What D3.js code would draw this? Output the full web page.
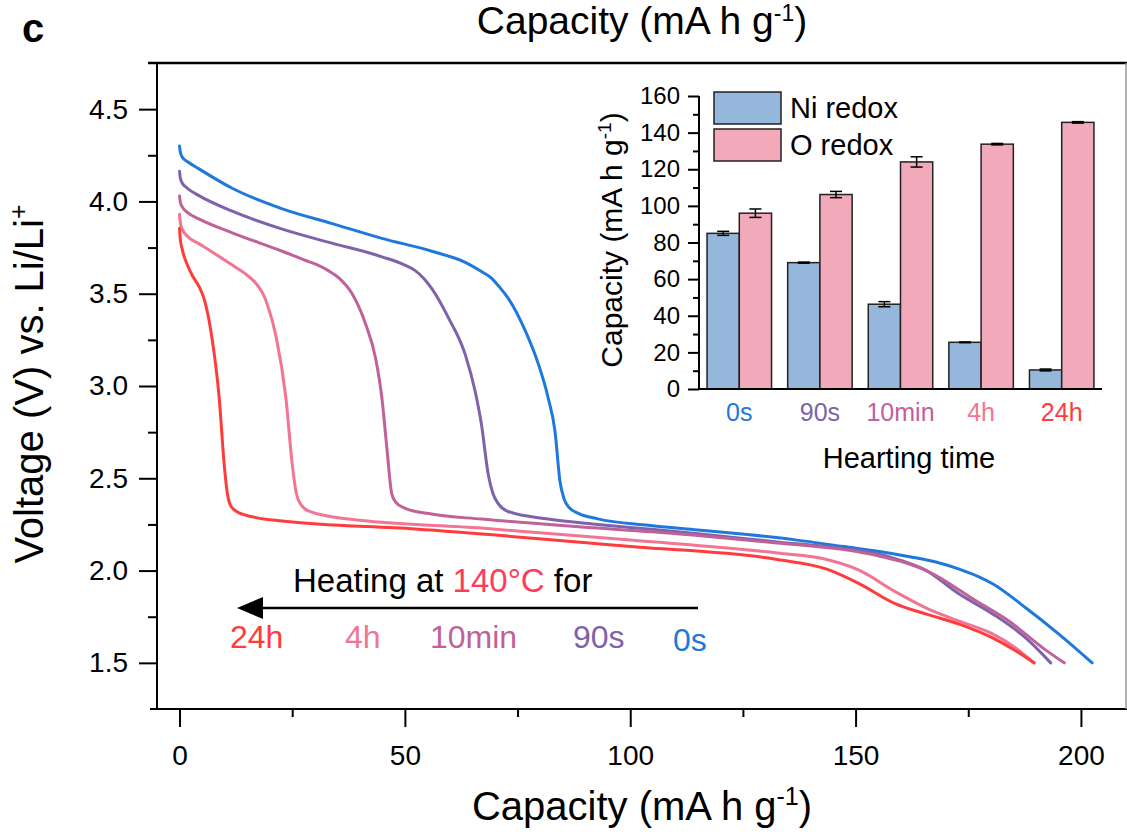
<!DOCTYPE html>
<html><head><meta charset="utf-8">
<script src="https://cdn.jsdelivr.net/npm/d3@7"></script>
<style>
body{margin:0;background:#fff;}
svg{display:block;font-family:"Liberation Sans",Arial,Helvetica,sans-serif;}
</style></head>
<body>
<svg id="chart" width="1127" height="832"></svg>
<script>
// ---------- data ----------
const seriesNames = ["0s","90s","10min","4h","24h"];
const seriesColors = ["#1f78dc","#7e62ab","#c0619a","#f27593","#ff3c3c"];
const curve0s = [[0,4.30],[0.15,4.27],[0.6,4.24],[1.8,4.215],[4.4,4.175],[11.8,4.07],[22.8,3.96],[33.9,3.88],[44.9,3.80],[56,3.73],[63.4,3.67],[67,3.62],[69.2,3.585],[71.2,3.53],[72.9,3.476],[76.7,3.30],[79.6,3.12],[81.8,2.935],[83.3,2.756],[84.4,2.485],[85.3,2.39],[86.5,2.34],[88.5,2.31],[92.8,2.28],[104,2.245],[115,2.22],[126,2.195],[137,2.165],[147.4,2.13],[155,2.105],[162,2.075],[168,2.045],[173,2.008],[177,1.97],[180.5,1.927],[187.8,1.797],[195.1,1.656],[202.5,1.50]];
const curve90s = [[0,4.164],[0.15,4.13],[0.6,4.10],[1.8,4.07],[4.4,4.03],[11.7,3.947],[22.8,3.85],[33.8,3.774],[44.9,3.70],[50,3.655],[52.3,3.625],[54.3,3.58],[55.9,3.53],[59.7,3.368],[63.4,3.17],[65.6,2.97],[67,2.79],[68.5,2.52],[69.5,2.42],[70.8,2.36],[72.9,2.32],[81.8,2.279],[92.8,2.25],[104,2.225],[115,2.20],[132.6,2.155],[147,2.12],[155,2.09],[160,2.055],[165.7,2.0],[173,1.873],[180.5,1.764],[187.8,1.634],[193.3,1.50]];
const curve10min = [[0,4.03],[0.15,4.0],[0.6,3.97],[1.8,3.94],[4.4,3.904],[11.7,3.83],[22.8,3.73],[28,3.68],[30.2,3.66],[33,3.625],[35.4,3.585],[38.3,3.50],[41.3,3.335],[43.5,3.15],[44.9,2.935],[46,2.664],[47.1,2.414],[48,2.37],[49.8,2.34],[55.9,2.306],[67,2.279],[92.8,2.23],[115,2.19],[132.6,2.15],[147,2.115],[155,2.08],[160,2.05],[165.7,2.0],[176.8,1.835],[184,1.727],[191.6,1.58],[196.3,1.50]];
const curve4h = [[0,3.93],[0.15,3.89],[0.6,3.85],[1.8,3.81],[4.4,3.77],[11.7,3.655],[15,3.6],[17,3.555],[18.5,3.50],[19.5,3.44],[21.4,3.27],[23.6,2.935],[25,2.577],[25.9,2.42],[27,2.355],[28.7,2.322],[37.6,2.279],[67,2.23],[100,2.165],[132.6,2.095],[143.6,2.06],[151,2.0],[158.5,1.89],[165.7,1.797],[173,1.726],[180.5,1.656],[185.6,1.58],[189.6,1.50]];
const curve24h = [[0,3.855],[0.15,3.80],[0.6,3.74],[1.5,3.67],[2.8,3.60],[4.3,3.54],[5.6,3.46],[7.3,3.243],[8.8,2.935],[9.9,2.577],[10.6,2.42],[11.5,2.345],[13.9,2.306],[22.8,2.268],[52.3,2.225],[100,2.13],[132.6,2.06],[143.6,2.008],[151,1.927],[158.5,1.824],[165.7,1.764],[173,1.71],[180.5,1.634],[185.6,1.564],[189.6,1.50]];
const curves = [curve0s, curve90s, curve10min, curve4h, curve24h];

const xTicks = [0,50,100,150,200];
const xMinor = [25,75,125,175];
const yTicks = [1.5,2.0,2.5,3.0,3.5,4.0,4.5];
const yMinor = [1.75,2.25,2.75,3.25,3.75,4.25];

// inset bar data
const insetCats = ["0s","90s","10min","4h","24h"];
const niRedox = [85,69,46.3,25.5,10.4];
const niErr = [1.1,0.3,1.4,0.2,0.5];
const oRedox = [96,106.2,124,133.7,145.6];
const oErr = [2.3,1.7,2.8,0.4,0.4];
const insetTicks = [0,20,40,60,80,100,120,140,160];
const insetMinor = [10,30,50,70,90,110,130,150];

// ---------- main chart ----------
const svg = d3.select("#chart");
const x = d3.scaleLinear().domain([-5,210]).range([157,1126]);
const y = d3.scaleLinear().domain([1.25,4.75]).range([709,63]);

// curves
const line = d3.line().x(d=>x(d[0])).y(d=>y(d[1])).curve(d3.curveMonotoneX);
svg.append("g").selectAll("path").data(curves).join("path")
  .attr("d", line).attr("fill","none")
  .attr("stroke",(d,i)=>seriesColors[i]).attr("stroke-width",3)
  .attr("stroke-linecap","round").attr("stroke-linejoin","round");

// axes
const axStyle = g => { g.selectAll("path,line").attr("stroke","#000").attr("stroke-width",2); g.selectAll("text").attr("fill","#000"); };
svg.append("g").attr("transform","translate(0,709)")
  .call(d3.axisBottom(x).tickValues(xTicks).tickFormat(d3.format("d")).tickSize(18).tickPadding(18).tickSizeOuter(0))
  .call(axStyle).call(g=>g.select(".domain").attr("d","M150,0H1127"))
  .selectAll("text").attr("font-size",28).attr("font-family",null);
svg.append("g").attr("transform","translate(0,709)")
  .call(d3.axisBottom(x).tickValues(xMinor).tickSize(8).tickFormat(""))
  .call(axStyle).call(g=>g.select(".domain").remove());
svg.append("g").attr("transform","translate(157,0)")
  .call(d3.axisLeft(y).tickValues(yTicks).tickFormat(d3.format(".1f")).tickSize(18).tickPadding(11).tickSizeOuter(0))
  .call(axStyle).call(g=>g.select(".domain").attr("d","M0,63V709"))
  .selectAll("text").attr("font-size",28).attr("font-family",null);
svg.append("g").attr("transform","translate(157,0)")
  .call(d3.axisLeft(y).tickValues(yMinor).tickSize(9).tickFormat(""))
  .call(axStyle).call(g=>g.select(".domain").remove());
// top frame and right border
svg.append("line").attr("x1",148).attr("x2",1127).attr("y1",63).attr("y2",63).attr("stroke","#000").attr("stroke-width",2.5);
svg.append("line").attr("x1",1126).attr("x2",1126).attr("y1",63).attr("y2",709).attr("stroke","#999").attr("stroke-width",1.5);

// titles
function capTitle(sel, xx, yy, size, supSize, supRise){
  const t = sel.append("text").attr("x",xx).attr("y",yy).attr("text-anchor","middle").attr("font-size",size).attr("fill","#000");
  t.append("tspan").text("Capacity (mA h g");
  t.append("tspan").text("-1").attr("font-size",supSize).attr("dy",-supRise);
  t.append("tspan").text(")").attr("dy",supRise);
  return t;
}
capTitle(svg, 642, 820, 40, 25, 15);
capTitle(svg, 642, 34, 39, 23, 13);
svg.append("text").attr("x",22).attr("y",42).attr("font-size",40).attr("font-weight","bold").text("c");
const yl = svg.append("text").attr("transform","translate(43,384) rotate(-90)").attr("text-anchor","middle").attr("font-size",40);
yl.append("tspan").text("Voltage (V) vs. Li/Li");
yl.append("tspan").text("+").attr("font-size",25).attr("dy",-16);

// annotation
const ann = svg.append("text").attr("x",293).attr("y",592).attr("font-size",33).attr("fill","#000");
ann.append("tspan").text("Heating at ");
ann.append("tspan").text("140°C").attr("fill","#ff3b5c");
ann.append("tspan").text(" for");
svg.append("line").attr("x1",698).attr("x2",258).attr("y1",608).attr("y2",608).attr("stroke","#000").attr("stroke-width",2.5);
svg.append("path").attr("d","M237,608L263,597L263,619Z").attr("fill","#000");
const annLabels = [["24h",230,648,4],["4h",345,648,3],["10min",430,648,2],["90s",573,648,1],["0s",673,651,0]];
svg.append("g").selectAll("text").data(annLabels).join("text")
  .attr("x",d=>d[1]).attr("y",d=>d[2]).attr("font-size",32)
  .attr("fill",d=>seriesColors[d[3]]).text(d=>d[0]);

// ---------- inset ----------
const xi = d3.scaleBand().domain(insetCats).range([699,1102]).paddingInner(0.2).paddingOuter(0.1);
const xs = d3.scaleBand().domain(["Ni","O"]).range([0,xi.bandwidth()]);
const yi = d3.scaleLinear().domain([0,160]).range([389,96]);
const niColor = "#94b7db", oColor = "#f2aabb";
const ig = svg.append("g");
const grp = ig.selectAll("g.grp").data(insetCats).join("g").attr("transform",d=>`translate(${xi(d)},0)`);
grp.append("rect").attr("x",xs("Ni")).attr("width",xs.bandwidth())
  .attr("y",(d,i)=>yi(niRedox[i])).attr("height",(d,i)=>yi(0)-yi(niRedox[i]))
  .attr("fill",niColor).attr("stroke","#222").attr("stroke-width",1.5);
grp.append("rect").attr("x",xs("O")).attr("width",xs.bandwidth())
  .attr("y",(d,i)=>yi(oRedox[i])).attr("height",(d,i)=>yi(0)-yi(oRedox[i]))
  .attr("fill",oColor).attr("stroke","#222").attr("stroke-width",1.5);
function errBar(g, key, vals, errs){
  g.each(function(d,i){
    const cx = xs(key)+xs.bandwidth()/2, v=vals[i], e=errs[i];
    const s = d3.select(this).append("g").attr("stroke","#000").attr("stroke-width",1.5);
    s.append("line").attr("x1",cx).attr("x2",cx).attr("y1",yi(v+e)).attr("y2",yi(v-e));
    s.append("line").attr("x1",cx-6).attr("x2",cx+6).attr("y1",yi(v+e)).attr("y2",yi(v+e));
    s.append("line").attr("x1",cx-6).attr("x2",cx+6).attr("y1",yi(v-e)).attr("y2",yi(v-e));
  });
}
errBar(grp,"Ni",niRedox,niErr);
errBar(grp,"O",oRedox,oErr);

ig.append("g").attr("transform","translate(699,0)")
  .call(d3.axisLeft(yi).tickValues(insetTicks).tickSize(11).tickPadding(8).tickSizeOuter(0))
  .call(axStyle).call(g=>g.select(".domain").attr("d","M0,96V389"))
  .selectAll("text").attr("font-size",24).attr("font-family",null);
ig.append("g").attr("transform","translate(699,0)")
  .call(d3.axisLeft(yi).tickValues(insetMinor).tickSize(6).tickFormat(""))
  .call(axStyle).call(g=>g.select(".domain").remove());
ig.append("line").attr("x1",699).attr("x2",1102).attr("y1",389).attr("y2",389).attr("stroke","#000").attr("stroke-width",2);
ig.selectAll("text.cat").data(insetCats).join("text").attr("class","cat")
  .attr("x",d=>xi(d)+xi.bandwidth()/2).attr("y",421).attr("text-anchor","middle")
  .attr("font-size",25).attr("fill",(d,i)=>seriesColors[i]).text(d=>d);
ig.append("text").attr("x",909).attr("y",468).attr("text-anchor","middle").attr("font-size",29).text("Hearting time");
const iyl = ig.append("text").attr("transform","translate(622,240) rotate(-90)").attr("text-anchor","middle").attr("font-size",30);
iyl.append("tspan").text("Capacity (mA h g");
iyl.append("tspan").text("-1").attr("font-size",19).attr("dy",-11);
iyl.append("tspan").text(")").attr("dy",11);
// legend
const legend = [["Ni redox",niColor,92],["O redox",oColor,129]];
const lg = ig.selectAll("g.leg").data(legend).join("g");
lg.append("rect").attr("x",714).attr("y",d=>d[2]).attr("width",67).attr("height",32)
  .attr("fill",d=>d[1]).attr("stroke","#222").attr("stroke-width",1.5);
lg.append("text").attr("x",790).attr("y",d=>d[2]+26).attr("font-size",29).text(d=>d[0]);
</script>
</body></html>
